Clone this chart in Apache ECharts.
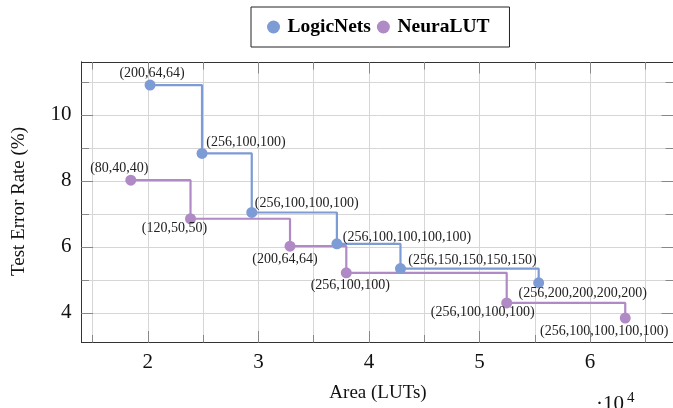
<!DOCTYPE html>
<html>
<head>
<meta charset="utf-8">
<script src="https://cdn.jsdelivr.net/npm/echarts@6/dist/echarts.min.js"></script>
<style>
html,body{margin:0;padding:0;background:#fff;}
#chart{width:673px;height:408px;}
</style>
</head>
<body>
<div id="chart"></div>
<script>
// ---- data ----
const seriesNames = ['LogicNets', 'NeuraLUT'];
const logicArea = [20200, 24900, 29400, 37100, 42850, 55350];
const logicErr = [10.9, 8.83, 7.04, 6.09, 5.34, 4.91];
const logicCfg = ['(200,64,64)', '(256,100,100)', '(256,100,100,100)', '(256,100,100,100,100)', '(256,150,150,150,150)', '(256,200,200,200,200)'];
const neuraArea = [18460, 23860, 32860, 37950, 52460, 63180];
const neuraErr = [8.02, 6.85, 6.02, 5.21, 4.30, 3.84];
const neuraCfg = ['(80,40,40)', '(120,50,50)', '(200,64,64)', '(256,100,100)', '(256,100,100,100)', '(256,100,100,100,100)'];
const xMajorTicks = [20000, 30000, 40000, 50000, 60000];
const xMinorTicks = [15000, 20000, 25000, 30000, 35000, 40000, 45000, 50000, 55000, 60000, 65000];
const yMajorTicks = [4, 6, 8, 10];
const yMinorTicks = [3, 4, 5, 6, 7, 8, 9, 10, 11];

// ---- styling / placement (kept separate from data) ----
const logicLabelOffsets = [[2, -11.5], [44, -11], [55, -9], [70, -7], [72, -8], [44, 11]];
const neuraLabelOffsets = [[-11.5, -12], [-16, 10], [-5, 13], [4, 12], [-24, 9], [-21, 13]];
const FONT = '"Liberation Serif", "Times New Roman", serif';
const BLUE = '#7d9bd5';
const PURPLE = '#b08ac5';
const AXIS = '#333';
const TICK = '#888';
const GRID = '#d6d6d6';

function buildData(xs, ys, cfg, offs) {
  return xs.map((x, i) => ({
    value: [x, ys[i]],
    label: { formatter: cfg[i], offset: offs[i] }
  }));
}

function xAxisDef(pos, ticks, len, showLabels, showSplit) {
  return {
    type: 'value', position: pos, min: 14000, max: 67500,
    axisLine: { show: true, onZero: false, lineStyle: { color: AXIS, width: 1 } },
    axisTick: { show: true, inside: true, length: len, customValues: ticks, lineStyle: { color: TICK, width: 1 } },
    axisLabel: {
      show: showLabels, customValues: xMajorTicks, margin: 9,
      formatter: v => String(v / 10000),
      fontFamily: FONT, fontSize: 21, color: '#111'
    },
    splitLine: { show: showSplit, lineStyle: { color: GRID, width: 1 } }
  };
}
function yAxisDef(pos, ticks, len, showLabels, showSplit) {
  return {
    type: 'value', position: pos, min: 3.1, max: 11.6,
    axisLine: { show: true, onZero: false, lineStyle: { color: AXIS, width: 1 } },
    axisTick: { show: true, inside: true, length: len, customValues: ticks, lineStyle: { color: TICK, width: 1 } },
    axisLabel: {
      show: showLabels, customValues: yMajorTicks, margin: 10,
      fontFamily: FONT, fontSize: 21, color: '#111'
    },
    splitLine: { show: showSplit, lineStyle: { color: GRID, width: 1 } }
  };
}

const chart = echarts.init(document.getElementById('chart'), null, { renderer: 'canvas' });
chart.setOption({
  animation: false,
  backgroundColor: '#fff',
  grid: { left: 81.5, right: -1, top: 62, bottom: 65.5, containLabel: false },
  legend: {
    data: seriesNames,
    left: 251, top: 7,
    padding: [9, 20, 9, 16],
    itemWidth: 18, itemHeight: 13, itemGap: 6,
    icon: 'circle',
    borderColor: '#222', borderWidth: 1, borderRadius: 0,
    textStyle: { fontFamily: FONT, fontWeight: 'bold', fontSize: 19.5, color: '#000', lineHeight: 22 }
  },
  xAxis: [
    xAxisDef('bottom', xMinorTicks, 7.5, false, true),
    xAxisDef('bottom', xMajorTicks, 11.5, true, false),
    xAxisDef('top', xMinorTicks, 7.5, false, false),
    xAxisDef('top', xMajorTicks, 11.5, false, false)
  ],
  yAxis: [
    yAxisDef('left', yMinorTicks, 7.5, false, true),
    yAxisDef('left', yMajorTicks, 11.5, true, false),
    yAxisDef('right', yMinorTicks, 7.5, false, false),
    yAxisDef('right', yMajorTicks, 11.5, false, false)
  ],
  series: [
    {
      name: seriesNames[0], type: 'line', step: 'end',
      xAxisIndex: 1, yAxisIndex: 1,
      symbol: 'circle', symbolSize: 11, showAllSymbol: true,
      color: BLUE,
      lineStyle: { color: BLUE, width: 2.2 },
      itemStyle: { color: BLUE },
      label: { show: true, position: 'inside', align: 'center', verticalAlign: 'middle', fontFamily: FONT, fontSize: 14, color: '#222' },
      data: buildData(logicArea, logicErr, logicCfg, logicLabelOffsets)
    },
    {
      name: seriesNames[1], type: 'line', step: 'end',
      xAxisIndex: 1, yAxisIndex: 1,
      symbol: 'circle', symbolSize: 11, showAllSymbol: true,
      color: PURPLE,
      lineStyle: { color: PURPLE, width: 2.2 },
      itemStyle: { color: PURPLE },
      label: { show: true, position: 'inside', align: 'center', verticalAlign: 'middle', fontFamily: FONT, fontSize: 14, color: '#222' },
      data: buildData(neuraArea, neuraErr, neuraCfg, neuraLabelOffsets)
    }
  ],
  graphic: [
    { type: 'text', x: 378, y: 393, style: { text: 'Area (LUTs)', font: '19px ' + FONT, fill: '#111', align: 'center', verticalAlign: 'middle' } },
    { type: 'text', x: 19, y: 201.5, rotation: Math.PI / 2, style: { text: 'Test Error Rate (%)', font: '19px ' + FONT, fill: '#111', align: 'center', verticalAlign: 'middle' } },
    { type: 'text', x: 596, y: 394, style: { text: '·10', font: '21px ' + FONT, fill: '#111', align: 'left', verticalAlign: 'top' } },
    { type: 'text', x: 627, y: 391, style: { text: '4', font: '15px ' + FONT, fill: '#111', align: 'left', verticalAlign: 'top' } }
  ]
});
</script>
</body>
</html>
